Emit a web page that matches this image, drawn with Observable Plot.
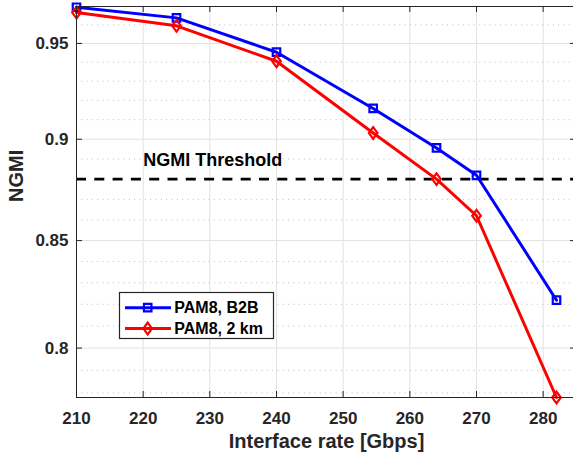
<!DOCTYPE html>
<html><head><meta charset="utf-8">
<script src="https://cdn.jsdelivr.net/npm/d3@7"></script>
<script src="https://cdn.jsdelivr.net/npm/@observablehq/plot@0.6"></script>
<style>html,body{margin:0;padding:0;background:#fff} svg{display:block}</style>
</head><body><div id="chart"></div>
<script>
// ---- data ----
const rates = [210, 225, 240, 254.5, 264, 270, 282];
const ngmiB2B = [0.9696, 0.9638, 0.9453, 0.9158, 0.8956, 0.8819, 0.8219];
const ngmi2km = [0.9667, 0.9595, 0.9405, 0.9032, 0.8800, 0.8620, 0.7780];
const seriesNames = ["PAM8, B2B", "PAM8, 2 km"];
const seriesColors = ["#0000ff", "#ff0000"];
const threshold = [0.88];
const thresholdLabel = ["NGMI Threshold"];
const thresholdLabelX = [220];
const xTicks = [210, 220, 230, 240, 250, 260, 270, 280];
const yTicks = [0.8, 0.85, 0.9, 0.95];
const yMinor = [0.78, 0.79, 0.81, 0.82, 0.83, 0.84, 0.86, 0.87, 0.89, 0.91, 0.92, 0.93, 0.94, 0.96];
const xDomain = [210, 285];
const yDomain = [0.778, 0.97];
const xLabel = "Interface rate [Gbps]";
const yLabel = "NGMI";

// ---- layout ----
const W = 573, H = 459, mL = 76, mR = -3, mT = 6, mB = 62;
const pw = W - mL - mR, ph = H - mT - mB;
const font = '"Liberation Sans", Arial, Helvetica, sans-serif';
const axisColor = "#262626";

const b2b = rates.map((r, i) => ({rate: r, ngmi: ngmiB2B[i], series: seriesNames[0]}));
const km2 = rates.map((r, i) => ({rate: r, ngmi: ngmi2km[i], series: seriesNames[1]}));

const squareSym = {draw(ctx) { ctx.moveTo(-3.75, -3.75); ctx.lineTo(3.75, -3.75); ctx.lineTo(3.75, 3.75); ctx.lineTo(-3.75, 3.75); ctx.closePath(); }};
const diamondSym = {draw(ctx) { ctx.moveTo(0, -5.8); ctx.lineTo(4.3, 0); ctx.lineTo(0, 5.8); ctx.lineTo(-4.3, 0); ctx.closePath(); }};

const chart = Plot.plot({
  width: W, height: H,
  marginLeft: mL, marginRight: mR, marginTop: mT, marginBottom: mB,
  style: {fontFamily: font, fontWeight: "bold", background: "#fff", overflow: "visible"},
  x: {domain: xDomain, label: null},
  y: {type: "log", domain: yDomain, label: null},
  marks: [
    Plot.ruleX(xTicks, {x: d => d, stroke: "#e2e2e2", strokeWidth: 1}),
    Plot.ruleY(yTicks, {y: d => d, stroke: "#e2e2e2", strokeWidth: 1}),
    Plot.ruleY(yMinor, {y: d => d, stroke: "#bdbdbd", strokeWidth: 1, strokeDasharray: "1,4.3"}),
    Plot.ruleY(threshold, {y: d => d, stroke: "#000", strokeWidth: 2.6, strokeDasharray: "10,8.3"}),
    Plot.text(thresholdLabel, {x: thresholdLabelX, y: threshold, text: d => d, textAnchor: "start", dy: -19, fontSize: 18, fill: "#000"}),
    Plot.line(b2b, {x: "rate", y: "ngmi", stroke: seriesColors[0], strokeWidth: 3}),
    Plot.line(km2, {x: "rate", y: "ngmi", stroke: seriesColors[1], strokeWidth: 3}),
    Plot.dot(b2b, {x: "rate", y: "ngmi", symbol: squareSym, stroke: seriesColors[0], fill: "none", strokeWidth: 2.2}),
    Plot.dot(km2, {x: "rate", y: "ngmi", symbol: diamondSym, stroke: seriesColors[1], fill: "none", strokeWidth: 2.2}),
    Plot.frame({stroke: axisColor, strokeWidth: 1}),
    Plot.tickX(xTicks, {x: d => d, stroke: axisColor, insetTop: ph - 6}),
    Plot.tickX(xTicks, {x: d => d, stroke: axisColor, insetBottom: ph - 6}),
    Plot.tickY(yTicks, {y: d => d, stroke: axisColor, insetRight: pw - 6}),
    Plot.tickY(yTicks, {y: d => d, stroke: axisColor, insetLeft: pw - 6}),
    Plot.axisX(xTicks, {tickSize: 0, tickPadding: 14, fontSize: 17, fill: axisColor, tickFormat: d => String(d), label: null}),
    Plot.axisY(yTicks, {tickSize: 0, tickPadding: 8, fontSize: 17, fill: axisColor, tickFormat: d => String(d), label: null}),
    Plot.text([xLabel], {frameAnchor: "bottom", text: d => d, dy: 50, fontSize: 20, fill: axisColor}),
    Plot.text([yLabel], {frameAnchor: "left", text: d => d, rotate: -90, dx: -60, fontSize: 20, fill: axisColor})
  ]
});
document.getElementById("chart").appendChild(chart);

// ---- legend ----
const svg = d3.select(chart);
const lg = svg.append("g").attr("font-family", font).attr("font-weight", "bold").attr("text-anchor", "start");
lg.append("rect").attr("x", 119.5).attr("y", 292.5).attr("width", 154).attr("height", 46)
  .attr("fill", "#fff").attr("stroke", axisColor).attr("stroke-width", 1.2);
const rows = [307.7, 328.5];
const syms = [squareSym, diamondSym];
seriesNames.forEach((name, i) => {
  const y = rows[i];
  lg.append("line").attr("x1", 125).attr("x2", 171).attr("y1", y).attr("y2", y)
    .attr("stroke", seriesColors[i]).attr("stroke-width", 3);
  lg.append("path").attr("d", d3.symbol(syms[i])()).attr("transform", `translate(147.7,${y})`)
    .attr("fill", "none").attr("stroke", seriesColors[i]).attr("stroke-width", 2.2);
  lg.append("text").attr("x", 174.3).attr("y", y).attr("dy", "0.35em")
    .attr("text-anchor", "start").attr("font-size", 16).attr("fill", "#000").text(name);
});
</script>
</body></html>
